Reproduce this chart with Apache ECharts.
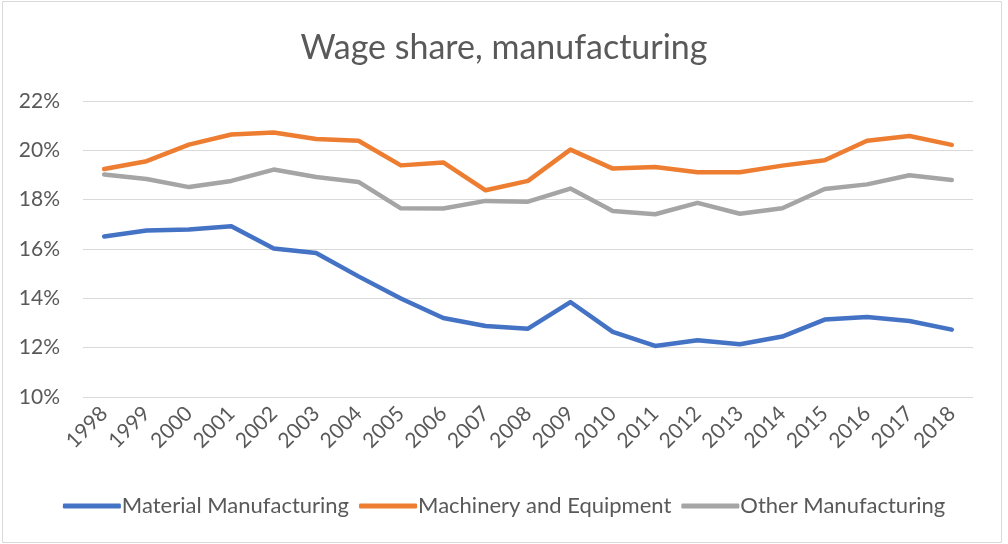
<!DOCTYPE html>
<html><head><meta charset="utf-8">
<script src="https://cdn.jsdelivr.net/npm/echarts@6/dist/echarts.min.js"></script>
<style>html,body{margin:0;padding:0;background:#fff}#c{width:1008px;height:544px}</style>
</head><body><div id="c"></div>
<script>
const years = ['1998','1999','2000','2001','2002','2003','2004','2005','2006','2007','2008','2009','2010','2011','2012','2013','2014','2015','2016','2017','2018'];
const material = [16.51,16.75,16.79,16.92,16.02,15.84,14.89,13.99,13.20,12.88,12.77,13.85,12.64,12.07,12.30,12.14,12.45,13.14,13.24,13.08,12.73];
const machinery = [19.24,19.56,20.23,20.64,20.72,20.46,20.39,19.39,19.51,18.38,18.76,20.03,19.26,19.32,19.11,19.11,19.38,19.60,20.39,20.58,20.22];
const other = [19.02,18.84,18.51,18.76,19.22,18.92,18.72,17.65,17.64,17.95,17.92,18.45,17.54,17.41,17.87,17.43,17.65,18.43,18.62,18.99,18.80];
const seriesNames = ['Material Manufacturing','Machinery and Equipment','Other Manufacturing'];
const colors = ['#4472C4','#ED7D31','#A5A5A5'];
const font = 'Lato, "Open Sans", sans-serif';
const chart = echarts.init(document.getElementById('c'));
const mk = (name, data, color) => ({
  name, type: 'line', data, symbol: 'none', smooth: false,
  lineStyle: {width: 4.5, color, cap: 'round', join: 'round'}, itemStyle: {color}
});
chart.setOption({
  animation: false,
  title: {text: 'Wage share, manufacturing', left: 'center', top: 26,
    textStyle: {fontFamily: font, fontSize: 34, fontWeight: 'normal', color: '#595959'}},
  graphic: [{type: 'rect', shape: {x: 2.5, y: 1.5, width: 999, height: 541}, style: {fill: 'none', stroke: '#d9d9d9', lineWidth: 1}, silent: true}],
  grid: {left: 83, right: 35, top: 101, bottom: 147},
  legend: {bottom: 22, left: 'center', itemWidth: 58, itemHeight: 5, itemGap: 10, icon: 'roundRect',
    textStyle: {fontFamily: font, fontSize: 22, color: '#595959', padding: [0, 0, 0, -4]},
    data: seriesNames},
  xAxis: {type: 'category', data: years, boundaryGap: true,
    axisLine: {show: false}, axisTick: {show: false},
    axisLabel: {rotate: 45, margin: 13, fontFamily: font, fontSize: 21, color: '#595959', interval: 0}},
  yAxis: {type: 'value', min: 10, max: 22, interval: 2,
    axisLine: {show: false}, axisTick: {show: false},
    splitLine: {lineStyle: {color: '#d9d9d9', width: 1}},
    axisLabel: {formatter: v => v + '%', margin: 23, fontFamily: font, fontSize: 21, color: '#595959'}},
  series: [mk(seriesNames[0], material, colors[0]), mk(seriesNames[1], machinery, colors[1]), mk(seriesNames[2], other, colors[2])]
});
</script></body></html>
